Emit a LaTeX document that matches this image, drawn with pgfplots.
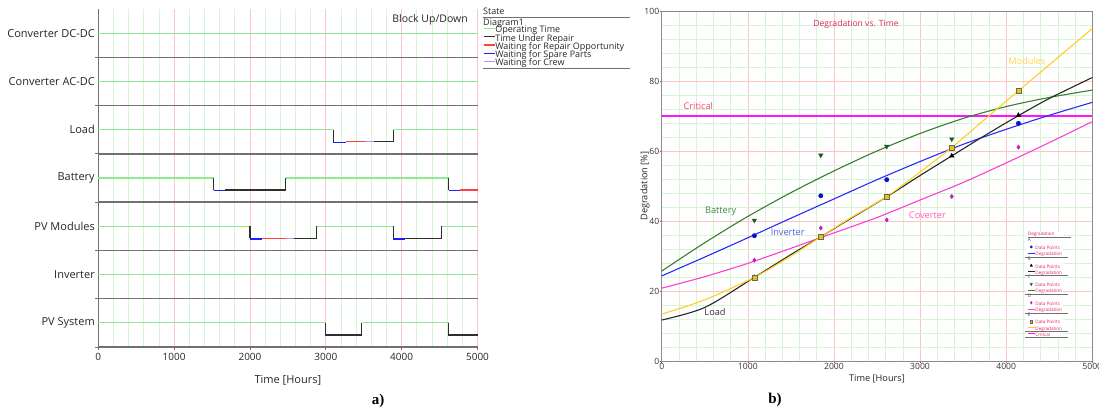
\documentclass[border=0pt]{standalone}
\usepackage{pgfplots}
\pgfplotsset{compat=1.18}
\usepackage{fontspec}
\setmainfont{Open Sans}
\newfontfamily\lserif{Liberation Serif}
\definecolor{opg}{HTML}{8EEA8E}
\definecolor{rep}{HTML}{2E2E2E}
\definecolor{wro}{HTML}{FF4040}
\definecolor{wsp}{HTML}{1E1EFF}
\definecolor{wcr}{HTML}{C98BEA}
\definecolor{sep}{HTML}{707070}
\definecolor{gmin}{HTML}{D4F4D4}
\definecolor{gmaj}{HTML}{FFC4C4}
\definecolor{cbat}{HTML}{3A7E30}
\definecolor{mbat}{HTML}{1F5A1F}
\definecolor{cinv}{HTML}{2A2AFF}
\definecolor{minv}{HTML}{1010C0}
\definecolor{ccon}{HTML}{FF3ED6}
\definecolor{mcon}{HTML}{C020C0}
\definecolor{cmod}{HTML}{FFD023}
\definecolor{mmod}{HTML}{EEC400}
\definecolor{ccrit}{HTML}{FF14FF}
\definecolor{ttl}{HTML}{E0245A}
\definecolor{tinv}{HTML}{5A5AF0}
\definecolor{tbat}{HTML}{3E8E3E}
\definecolor{tcon}{HTML}{FF5FAF}
\definecolor{tmod}{HTML}{FFD84A}
\definecolor{tcrit}{HTML}{FF4070}
\newcommand{\lgrule}{\rlap{\hspace*{-10pt}\raisebox{-1.8pt}{\textcolor{sep}{\rule{43pt}{0.6pt}}}}}
\newcommand{\lgletter}[1]{\addlegendimage{legend image code/.code={\node[overlay, anchor=west, inner sep=0pt, font=\fontsize{4.6}{5}\selectfont, text=black!70] at (0pt,1.6pt) {#1};}}\addlegendentry{}}
\begin{document}
\begin{tikzpicture}
\useasboundingbox (0,0) rectangle (1099pt,413pt);
% ---------------- panel a ----------------
\begin{axis}[
  at={(98.3pt,66pt)}, anchor=south west,
  scale only axis, width=379.2pt, height=338pt,
  xmin=0, xmax=5000, ymin=0, ymax=7,
  axis x line=bottom, axis y line=left,
  axis line style={-, sep, line width=1.3pt},
  xtick={0,1000,...,5000},
  minor x tick num=4,
  xmajorgrids, xminorgrids,
  major x grid style={gmaj, line width=0.7pt},
  minor x grid style={gmin, line width=0.7pt},
  ytick={0,...,6}, yticklabels={},
  ymajorgrids, major y grid style={sep, line width=1.3pt},
  extra y ticks={0.5,1.5,...,6.5},
  extra y tick labels={PV System, Inverter, PV Modules, Battery, Load, Converter AC-DC, Converter DC-DC},
  extra y tick style={major tick length=0pt, grid=none, yticklabel style={font=\fontsize{11}{13}\selectfont, text=black!85}},
  tick align=outside, major tick length=3pt, minor tick length=0pt,
  xtick style={sep, line width=0.8pt},
  ytick style={sep, line width=0.8pt},
  xticklabel style={font=\fontsize{10}{12}\selectfont, text=black!85},
  /pgf/number format/1000 sep={},
  /pgf/number format/assume math mode=true,
  xlabel={Time [Hours]}, xlabel style={font=\fontsize{11}{13}\selectfont, text=black!85, yshift=-8pt},
  unbounded coords=jump,
  clip=false,
  legend style={at={(1.0145,0.947)}, anchor=north west, draw=none, fill=none,
    font=\fontsize{9}{9}\selectfont, inner sep=0pt, outer sep=0pt, row sep=0pt,
    nodes={inner sep=0pt, text height=6pt, text depth=2.25pt, text=black!85},
    /tikz/every even column/.append style={column sep=1.5pt}},
  legend cell align=left,
  legend image code/.code={\draw[#1, line width=1.3pt] (0pt,2.6pt) -- (11pt,2.6pt);},
]
% operating time (green)
\addplot[opg, line width=1.2pt, forget plot] coordinates {(0,6.5) (5000,6.5)};
\addplot[opg, line width=1.2pt, forget plot] coordinates {(0,5.5) (5000,5.5)};
\addplot[opg, line width=1.2pt, forget plot] coordinates {(0,4.5) (3100,4.5) (nan,nan) (3890,4.5) (5000,4.5)};
\addplot[opg, line width=1.2pt, forget plot] coordinates {(0,3.5) (1520,3.5) (nan,nan) (2470,3.5) (4620,3.5)};
\addplot[opg, line width=1.2pt, forget plot] coordinates {(0,2.5) (2000,2.5) (nan,nan) (2880,2.5) (3890,2.5) (nan,nan) (4530,2.5) (5000,2.5)};
\addplot[opg, line width=1.2pt, forget plot] coordinates {(0,1.5) (5000,1.5)};
\addplot[opg, line width=1.2pt, forget plot] coordinates {(0,0.5) (3000,0.5) (nan,nan) (3475,0.5) (4620,0.5)};
% time under repair (black) incl. step edges
\addplot[rep, line width=1.2pt, forget plot] coordinates {(3100,4.5) (3100,4.25) (nan,nan) (3630,4.25) (3890,4.25) (3890,4.5)};
\addplot[rep, line width=1.2pt, forget plot] coordinates {(1520,3.5) (1520,3.25) (nan,nan) (1670,3.25) (2470,3.25) (2470,3.5) (nan,nan) (4620,3.5) (4620,3.25)};
\addplot[rep, line width=1.2pt, forget plot] coordinates {(2000,2.5) (2000,2.25) (nan,nan) (2575,2.25) (2880,2.25) (2880,2.5) (nan,nan) (3890,2.5) (3890,2.25) (nan,nan) (4045,2.25) (4530,2.25) (4530,2.5)};
\addplot[rep, line width=1.2pt, forget plot] coordinates {(3000,0.5) (3000,0.25) (3475,0.25) (3475,0.5) (nan,nan) (4620,0.5) (4620,0.25) (5000,0.25)};
% waiting for repair opportunity (red)
\addplot[wro, line width=1.2pt, forget plot] coordinates {(3260,4.25) (3520,4.25)};
\addplot[wro, line width=1.2pt, forget plot] coordinates {(4775,3.25) (5000,3.25)};
\addplot[wro, line width=1.2pt, forget plot] coordinates {(2155,2.25) (2475,2.25)};
% waiting for spare parts (blue)
\addplot[wsp, line width=1.2pt, forget plot] coordinates {(3100,4.235) (3260,4.235)};
\addplot[wsp, line width=1.2pt, forget plot] coordinates {(1520,3.235) (1670,3.235) (nan,nan) (4620,3.235) (4775,3.235)};
\addplot[wsp, line width=1.2pt, forget plot] coordinates {(2000,2.235) (2155,2.235) (nan,nan) (3890,2.235) (4045,2.235)};
% waiting for crew (purple)
\addplot[wcr, line width=1.2pt, forget plot] coordinates {(3520,4.25) (3630,4.25)};
\addplot[wcr, line width=1.2pt, forget plot] coordinates {(2475,2.25) (2575,2.25)};
% legend
\addlegendimage{opg}\addlegendentry{Operating Time}
\addlegendimage{rep}\addlegendentry{Time Under Repair}
\addlegendimage{wro}\addlegendentry{Waiting for Repair Opportunity}
\addlegendimage{wsp}\addlegendentry{Waiting for Spare Parts}
\addlegendimage{wcr}\addlegendentry{Waiting for Crew}
\node[font=\fontsize{10.5}{12}\selectfont, text=black!85] at (axis description cs:0.875,0.967) {Block Up/Down};
\node[anchor=west, font=\fontsize{9}{9}\selectfont, inner sep=0pt, text=black!85] at (axis description cs:1.0145,0.994) {State};
\draw[sep, line width=1pt] (axis description cs:1.0145,0.976) -- (axis description cs:1.402,0.976);
\node[anchor=west, font=\fontsize{9}{9}\selectfont, inner sep=0pt, text=black!85] at (axis description cs:1.0145,0.959) {Diagram1};
\draw[sep, line width=1pt] (axis description cs:1.0145,0.8254) -- (axis description cs:1.402,0.8254);
\end{axis}
% ---------------- panel b ----------------
\begin{axis}[
  at={(661.7pt,52pt)}, anchor=south west,
  scale only axis, width=430.6pt, height=350pt,
  xmin=0, xmax=5000, ymin=0, ymax=100,
  xtick={0,1000,...,5000}, ytick={0,20,...,100},
  minor x tick num=4, minor y tick num=4,
  grid=both,
  major grid style={gmaj, line width=0.6pt},
  minor grid style={gmin, line width=0.6pt},
  axis line style={black!45, line width=0.9pt},
  tick align=outside, major tick length=2pt, minor tick length=0pt,
  xtick pos=bottom, ytick pos=left,
  tick style={black!60, line width=0.6pt},
  ticklabel style={font=\fontsize{8.6}{10}\selectfont, text=black!80},
  xticklabel style={yshift=3pt},
  yticklabel style={xshift=3pt},
  /pgf/number format/1000 sep={}, /pgf/number format/assume math mode=true,
  xlabel={Time [Hours]}, ylabel={Degradation [\%]},
  label style={font=\fontsize{9.2}{11}\selectfont, text=black!85},
  xlabel style={yshift=2pt},
  ylabel style={yshift=-12pt},
  clip=false,
  legend style={at={(0.846,0.369)}, anchor=north west, draw=none, fill=white,
    font=\fontsize{4.6}{5}\selectfont, inner sep=1pt, row sep=0pt,
    nodes={inner sep=0pt, text height=4pt, text depth=2.2pt, text=ttl},
    /tikz/every even column/.append style={column sep=2pt}},
  legend cell align=left,
  legend image code/.code={\draw[mark repeat=2, mark phase=2, #1] plot coordinates {(0pt,1.6pt) (3.5pt,1.6pt) (7pt,1.6pt)};},
]
\addplot[ccrit, line width=2pt, forget plot] coordinates {(0,70.1) (5000,70.1)};
\addplot[cbat, line width=1.1pt, smooth, forget plot] coordinates {(0,25.7)(500,33.8)(1000,41.3)(1500,48.1)(2000,54.3)(2500,60.0)(3000,65.0)(3500,69.3)(4000,72.7)(4500,75.3)(5000,77.4)};
\addplot[cinv, line width=1.1pt, smooth, forget plot] coordinates {(0,24.3)(500,29.7)(1000,35.2)(1500,40.8)(2000,46.3)(2500,51.8)(3000,57.0)(3500,61.9)(4000,66.2)(4500,70.2)(5000,73.9)};
\addplot[ccon, line width=1.1pt, smooth, forget plot] coordinates {(0,20.8)(500,24.1)(1000,27.9)(1500,32.2)(2000,36.6)(2500,41.0)(3000,46.0)(3500,51.0)(4000,56.6)(4500,62.4)(5000,68.4)};
\addplot[black!85, line width=1.1pt, smooth, forget plot] coordinates {(0,11.7)(500,15.3)(1076,23.9)(1500,30.4)(1847,35.5)(2200,40.8)(2613,46.9)(3000,53.0)(3368,58.6)(3750,64.4)(4142,70.1)(4500,75.0)(5000,81.0)};
\addplot[cmod, line width=1.1pt, smooth, forget plot] coordinates {(0,13.4)(500,17.5)(1076,23.9)(1500,30.0)(1847,35.5)(2200,41.0)(2613,47.0)(3000,54.0)(3368,61.0)(3750,69.0)(4142,77.2)(4500,84.6)(5000,95.0)};
% data points
\addplot[only marks, mark=*, mark size=2.2pt, minv, forget plot] coordinates {(1076,35.8)(1847,47.2)(2613,51.8)(4142,67.9)};
\addplot[only marks, mark=triangle*, mark size=2.6pt, black, forget plot] coordinates {(1076,23.9)(1847,35.5)(2613,46.9)(3368,58.6)(4142,70.2)};
\addplot[only marks, mark=triangle*, mark size=2.6pt, mbat, mark options={rotate=180}, forget plot] coordinates {(1076,40.2)(1847,58.8)(2613,61.3)(3368,63.4)};
\addplot[only marks, mark=diamond*, mark size=2.2pt, mcon, forget plot] coordinates {(1076,28.8)(1847,38.0)(2613,40.3)(3368,47.0)(4142,61.1)};
\addplot[only marks, mark=square*, mark size=2.5pt, draw=black!60, fill=mmod, forget plot] coordinates {(1076,23.9)(1847,35.6)(2613,47.0)(3368,60.9)(4142,77.1)};
% small legend
\addlegendimage{legend image code/.code={\node[overlay, anchor=west, inner sep=0pt, font=\fontsize{4.6}{5}\selectfont, text=ttl] at (0pt,1.6pt) {\rlap{\raisebox{-1.8pt}{\textcolor{sep}{\rule{43pt}{0.6pt}}}}Degradation};}}\addlegendentry{}
\lgletter{A}
\addlegendimage{only marks, mark=*, mark size=1.2pt, minv}\addlegendentry{Data Points}
\addlegendimage{cinv, line width=0.8pt}\addlegendentry{\lgrule Degradation}
\lgletter{B}
\addlegendimage{only marks, mark=triangle*, mark size=1.4pt, black}\addlegendentry{Data Points}
\addlegendimage{black!85, line width=0.8pt}\addlegendentry{\lgrule Degradation}
\lgletter{C}
\addlegendimage{only marks, mark=triangle*, mark size=1.4pt, mbat, mark options={rotate=180}}\addlegendentry{Data Points}
\addlegendimage{cbat, line width=0.8pt}\addlegendentry{\lgrule Degradation}
\lgletter{D}
\addlegendimage{only marks, mark=diamond*, mark size=1.3pt, mcon}\addlegendentry{Data Points}
\addlegendimage{ccon, line width=0.8pt}\addlegendentry{\lgrule Degradation}
\lgletter{E}
\addlegendimage{only marks, mark=square*, mark size=1.4pt, draw=black!60, fill=mmod}\addlegendentry{Data Points}
\addlegendimage{cmod, line width=0.8pt}\addlegendentry{\lgrule Degradation}
\addlegendimage{ccrit, line width=1.2pt}\addlegendentry{\lgrule Critical}
% labels
\node[font=\fontsize{8.6}{10}\selectfont, text=ttl] at (axis cs:2256,96.3) {Degradation vs. Time};
\node[font=\fontsize{9.2}{11}\selectfont, text=tcrit] at (axis cs:425,72.9) {Critical};
\node[font=\fontsize{9.2}{11}\selectfont, text=tbat] at (axis cs:685,42.7) {Battery};
\node[font=\fontsize{9.2}{11}\selectfont, text=tinv] at (axis cs:1463,36.8) {Inverter};
\node[font=\fontsize{9.2}{11}\selectfont, text=black!80] at (axis cs:619,14.1) {Load};
\node[font=\fontsize{9.2}{11}\selectfont, text=tcon] at (axis cs:3085,41.7) {Coverter};
\node[font=\fontsize{9.2}{11}\selectfont, text=tmod] at (axis cs:4239,85.8) {Modules};
\end{axis}
\node[font=\lserif\bfseries\fontsize{15}{17}\selectfont] at (378pt,12pt) {a)};
\node[font=\lserif\bfseries\fontsize{15}{17}\selectfont] at (775pt,13pt) {b)};
\end{tikzpicture}
\end{document}
